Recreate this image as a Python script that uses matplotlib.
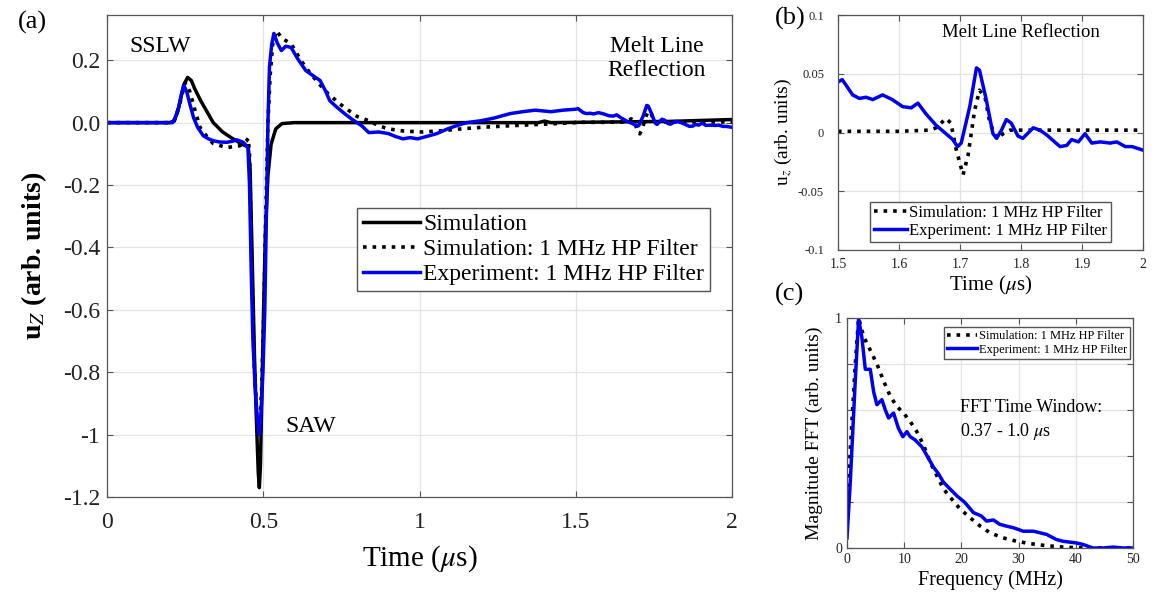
import numpy as np
import matplotlib.pyplot as plt

plt.rcParams['font.family'] = ['Liberation Serif', 'DejaVu Serif']
plt.rcParams['mathtext.fontset'] = 'stix'

# ---- panel (a): full trace ----
t_sim = [0, 0.1, 0.2, 0.215, 0.23, 0.245, 0.258, 0.27, 0.28, 0.30, 0.32, 0.34, 0.37, 0.40, 0.43,
         0.452, 0.458, 0.465, 0.472, 0.478, 0.484, 0.4875, 0.491, 0.496, 0.501, 0.507,
         0.515, 0.525, 0.54, 0.56, 0.6, 0.8, 1.0, 1.2, 1.38, 1.4, 1.42, 1.6, 1.8, 2.0]
u_sim = [0, 0, 0, 0.005, 0.05, 0.12, 0.145, 0.135, 0.11, 0.07, 0.035, 0.0, -0.03, -0.05, -0.068,
         -0.078, -0.15, -0.45, -0.75, -0.95, -1.12, -1.17, -1.1, -0.85, -0.6, -0.35,
         -0.17, -0.07, -0.02, -0.003, 0, 0, 0, 0.0, 0.0, 0.005, 0.0, 0.002, 0.004, 0.01]

t_simhp = [0, 0.1, 0.2, 0.215, 0.23, 0.25, 0.265, 0.28, 0.298, 0.32, 0.34, 0.383, 0.426, 0.445,
           0.452, 0.456, 0.462, 0.47, 0.48, 0.487, 0.495, 0.502, 0.508, 0.515, 0.522, 0.53,
           0.542, 0.56, 0.589, 0.62, 0.651, 0.7, 0.745, 0.8, 0.838, 0.87, 0.9, 0.95, 1.01,
           1.07, 1.134, 1.2, 1.29, 1.4, 1.5]
u_simhp = [0, 0, 0, 0.005, 0.05, 0.128, 0.1, 0.045, -0.016, -0.045, -0.067, -0.08, -0.074, -0.06,
           -0.05, -0.1, -0.4, -0.75, -0.95, -1.0, -0.85, -0.6, -0.3, 0.0, 0.15, 0.25,
           0.295, 0.27, 0.253, 0.2, 0.157, 0.1, 0.06, 0.02, 0.006, -0.01, -0.02, -0.027, -0.03,
           -0.026, -0.02, -0.015, -0.01, -0.005, 0.0]

t_exp = [0, 0.1, 0.21, 0.225, 0.238, 0.246, 0.255, 0.265, 0.277, 0.29, 0.308, 0.325, 0.34,
         0.36, 0.383, 0.40, 0.415, 0.436, 0.451, 0.456, 0.462, 0.467, 0.474, 0.481, 0.487,
         0.493, 0.499, 0.505, 0.51, 0.515, 0.52, 0.527, 0.534, 0.545, 0.558, 0.572, 0.589,
         0.61, 0.636, 0.66, 0.682, 0.70, 0.713, 0.735, 0.76, 0.785, 0.815, 0.838, 0.87, 0.9,
         0.925, 0.947, 0.97, 0.994, 1.02, 1.056, 1.09, 1.118, 1.15, 1.196, 1.24, 1.29, 1.33,
         1.37, 1.42, 1.46, 1.5]
u_exp = [0, 0, 0, 0.03, 0.09, 0.119, 0.1, 0.06, 0.016, -0.015, -0.042, -0.052, -0.058,
         -0.062, -0.063, -0.06, -0.055, -0.063, -0.08, -0.2, -0.5, -0.7, -0.85, -0.95, -1.0,
         -0.93, -0.8, -0.6, -0.3, 0.0, 0.18, 0.25, 0.286, 0.255, 0.231, 0.245, 0.241,
         0.205, 0.167, 0.15, 0.135, 0.1, 0.07, 0.05, 0.029, 0.01, -0.01, -0.032, -0.03, -0.035,
         -0.045, -0.052, -0.048, -0.052, -0.045, -0.035, -0.02, -0.01, 0.0, 0.006, 0.015, 0.029,
         0.035, 0.04, 0.035, 0.04, 0.043]

# ---- panel (b): melt line reflection window ----
tb_sim = [1.5, 1.55, 1.6, 1.65, 1.661, 1.677, 1.685, 1.694, 1.705, 1.713, 1.724, 1.732, 1.741,
          1.749, 1.76, 1.771, 1.782, 1.85, 1.9, 1.95, 2.0]
ub_sim = [0.001, 0.001, 0.001, 0.002, 0.004, 0.012, 0.008, -0.015, -0.036, -0.02, 0.019, 0.036,
          0.03, 0.008, -0.005, -0.001, 0.002, 0.002, 0.002, 0.002, 0.002]

tb_exp = [1.5, 1.507, 1.524, 1.535, 1.546, 1.557, 1.573, 1.589, 1.606, 1.62, 1.631, 1.644,
          1.661, 1.677, 1.688, 1.696, 1.702, 1.716, 1.727, 1.732, 1.743, 1.754, 1.76, 1.768,
          1.776, 1.784, 1.795, 1.803, 1.82, 1.831, 1.842, 1.864, 1.875, 1.883, 1.894, 1.905,
          1.916, 1.93, 1.946, 1.957, 1.971, 1.982, 2.0]
ub_exp = [0.043, 0.045, 0.032, 0.029, 0.030, 0.028, 0.032, 0.028, 0.022, 0.021, 0.025, 0.016,
          0.006, -0.001, -0.006, -0.012, -0.009, 0.022, 0.055, 0.053, 0.028, -0.001, -0.005, 0.002,
          0.011, 0.008, -0.003, -0.005, 0.004, 0.002, -0.002, -0.012, -0.011, -0.006, -0.008, -0.001,
          -0.009, -0.008, -0.009, -0.008, -0.012, -0.012, -0.015]

# ---- panel (c): FFT magnitude ----
f_sim = [0, 0.58, 1.45, 2.03, 2.9, 4.07, 5.23, 6.4, 7.56, 8.7, 9.88, 11.05, 12.2, 13.4, 14.5,
         15.7, 16.86, 18.3, 19.8, 21.5, 23.3, 25.0, 27.3, 29.7, 32.0, 34.9, 37.8, 41.3, 50]
m_sim = [0.14, 0.43, 0.8, 1.0, 0.92, 0.86, 0.8, 0.726, 0.66, 0.616, 0.587, 0.55, 0.506, 0.447,
         0.374, 0.315, 0.257, 0.213, 0.169, 0.132, 0.095, 0.066, 0.044, 0.029, 0.019, 0.01,
         0.004, 0.0, 0.0]

f_exp = [0, 0.58, 1.45, 2.03, 2.6, 3.2, 4.07, 4.65, 5.23, 6.1, 6.7, 7.27, 8.14, 9.0, 9.77,
         10.47, 11.05, 11.9, 13.08, 13.95, 15.1, 15.99, 16.86, 18.0, 19.2, 20.6, 22.1, 23.5,
         24.4, 25.6, 26.7, 27.9, 29.1, 30.8, 32.6, 34.9, 36.6, 37.8, 40.1, 41.3, 43.0, 44.8,
         46.5, 48.3, 50]
m_exp = [0.044, 0.29, 0.73, 0.997, 0.916, 0.777, 0.777, 0.68, 0.623, 0.645, 0.6, 0.565, 0.587,
         0.52, 0.484, 0.506, 0.484, 0.47, 0.44, 0.403, 0.352, 0.323, 0.286, 0.257, 0.227, 0.198,
         0.154, 0.139, 0.117, 0.122, 0.103, 0.095, 0.088, 0.073, 0.073, 0.059, 0.037, 0.029,
         0.022, 0.015, 0.0, 0.0, 0.004, 0.0, 0.0]

blue = '#0000ee'
spine_c = '#555555'
grid_c = '#e3e3e3'


def style_axes(ax, fs):
    for s in ax.spines.values():
        s.set_color(spine_c)
        s.set_linewidth(0.9)
    ax.tick_params(direction='in', top=True, right=True, labelsize=fs, colors=spine_c,
                   labelcolor='#222222', length=4)
    ax.grid(True, color=grid_c, lw=0.9)
    ax.set_axisbelow(True)


fig = plt.figure(figsize=(11.55, 5.93), dpi=100)

# (a)
ax = fig.add_axes([107/1155, 96/593, 625/1155, 482/593])
ax.plot(t_sim, u_sim, color='black', lw=2.5, label='Simulation')
ax.plot(t_simhp + tb_sim, u_simhp + ub_sim, color='black', lw=2.6, ls=':',
        label='Simulation: 1 MHz HP Filter')
ax.plot(t_exp + tb_exp, u_exp + ub_exp, color=blue, lw=2.5, label='Experiment: 1 MHz HP Filter')
ax.set_xlim(0, 2)
ax.set_ylim(-1.2, 0.345)
ax.set_xticks([0, 0.5, 1, 1.5, 2])
ax.set_xticklabels(['0', '0.5', '1', '1.5', '2'])
ax.set_yticks([0.2, 0.0, -0.2, -0.4, -0.6, -0.8, -1.0, -1.2])
ax.set_yticklabels(['0.2', '0.0', '-0.2', '-0.4', '-0.6', '-0.8', '-1', '-1.2'])
style_axes(ax, 17)
ax.tick_params(axis='x', pad=11)
ax.tick_params(axis='y', pad=5)
ax.set_xlabel(r'Time ($\mu$s)', fontsize=21, labelpad=7)
ax.set_ylabel(r'u$_Z$ (arb. units)', fontsize=20, fontweight='bold', labelpad=10)
ax.text(0.17, 0.245, 'SSLW', fontsize=17, ha='center', va='center')
ax.text(1.76, 0.205, 'Melt Line\nReflection', fontsize=17, ha='center', va='center',
        linespacing=1.15)
ax.text(0.57, -0.975, 'SAW', fontsize=17, ha='left', va='center')
leg = ax.legend(loc='upper right', bbox_to_anchor=(0.965, 0.6), fontsize=17, handlelength=2.4,
                handletextpad=0.15, borderpad=0.25, labelspacing=0.15, fancybox=False,
                framealpha=1, borderaxespad=0)
leg.get_frame().set_edgecolor(spine_c)
leg.get_frame().set_linewidth(1.0)

# (b)
axb = fig.add_axes([838/1155, 343/593, 305/1155, 235/593])
axb.plot(tb_sim, ub_sim, color='black', lw=2.6, ls=':', label='Simulation: 1 MHz HP Filter')
axb.plot(tb_exp, ub_exp, color=blue, lw=2.5, label='Experiment: 1 MHz HP Filter')
axb.set_xlim(1.5, 2)
axb.set_ylim(-0.1, 0.1)
axb.set_xticks([1.5, 1.6, 1.7, 1.8, 1.9, 2.0])
axb.set_xticklabels(['1.5', '1.6', '1.7', '1.8', '1.9', '2'])
axb.set_yticks([0.1, 0.05, 0, -0.05, -0.1])
axb.set_yticklabels(['0.1', '0.05', '0', '-0.05', '-0.1'])
style_axes(axb, 10)
axb.tick_params(axis='y', labelsize=9, pad=10)
axb.tick_params(axis='x', pad=6)
axb.set_xlabel(r'Time ($\mu$s)', fontsize=15, labelpad=2)
axb.set_ylabel(r'u$_z$ (arb. units)', fontsize=14, labelpad=3)
axb.text(1.80, 0.085, 'Melt Line Reflection', fontsize=13.5, ha='center', va='center')
legb = axb.legend(loc='lower center', bbox_to_anchor=(0.5, 0.034), fontsize=12, handlelength=2.0,
                  handletextpad=0.15, borderpad=0.2, labelspacing=0.1, fancybox=False,
                  framealpha=1, borderaxespad=0)
legb.get_frame().set_edgecolor(spine_c)

# (c)
axc = fig.add_axes([847/1155, 45/593, 286/1155, 230/593])
axc.plot(f_sim, m_sim, color='black', lw=2.6, ls=':', label='Simulation: 1 MHz HP Filter')
axc.plot(f_exp, m_exp, color=blue, lw=2.5, label='Experiment: 1 MHz HP Filter')
axc.set_xlim(0, 50)
axc.set_ylim(0, 1)
axc.set_xticks([0, 10, 20, 30, 40, 50])
axc.set_yticks([0, 0.2, 0.4, 0.6, 0.8, 1.0])
axc.set_yticklabels(['0', '', '', '', '', '1'])
style_axes(axc, 10)
axc.set_xlabel('Frequency (MHz)', fontsize=14.5, labelpad=3)
axc.set_ylabel('Magnitude FFT (arb. units)', fontsize=14, labelpad=9)
axc.text(19.8, 0.555, 'FFT Time Window:\n0.37 - 1.0 $\\mu$s', fontsize=13, ha='left',
         va='center', linespacing=1.3)
legc = axc.legend(loc='upper right', bbox_to_anchor=(0.99, 0.96), fontsize=9, handlelength=2.4,
                  handletextpad=0.15, borderpad=0.25, labelspacing=0.1, fancybox=False,
                  framealpha=1, borderaxespad=0)
legc.get_frame().set_edgecolor(spine_c)

fig.text(32/1155, 1 - 22/593, '(a)', fontsize=19, ha='center', va='center')
fig.text(790/1155, 1 - 18/593, '(b)', fontsize=19, ha='center', va='center')
fig.text(790/1155, 1 - 294/593, '(c)', fontsize=19, ha='center', va='center')

fig.savefig('out.png', dpi=100)
